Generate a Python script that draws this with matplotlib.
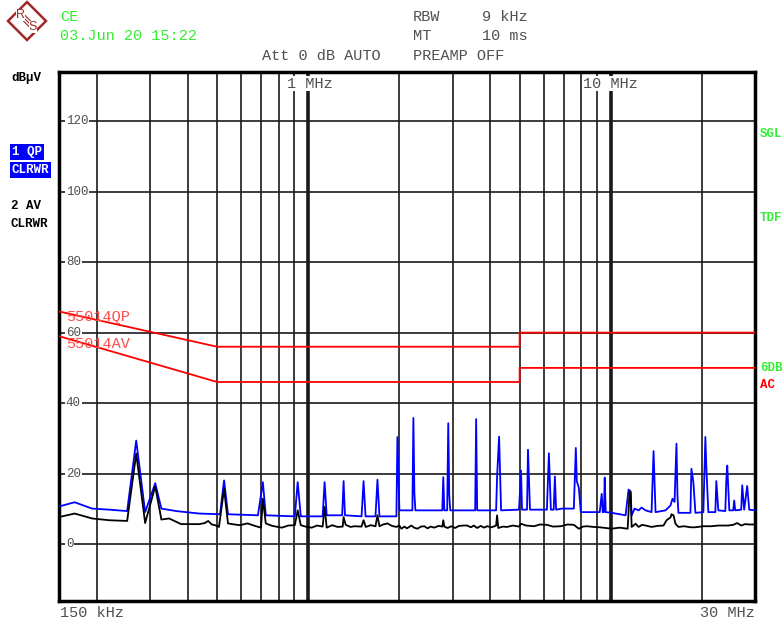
import matplotlib
matplotlib.use('Agg')
import matplotlib.pyplot as plt
from matplotlib.patches import Polygon
from matplotlib.ticker import NullLocator

mono = 'Liberation Mono'

# trace 1: quasi-peak (MHz, dBuV)
qp_freq = [0.150, 0.169, 0.193, 0.220, 0.252, 0.270, 0.289, 0.312, 0.327, 0.366,
           0.436, 0.511, 0.527, 0.543, 0.682, 0.708, 0.724, 0.903, 0.923, 0.945,
           1.116, 1.133, 1.151, 1.295, 1.309, 1.323, 1.501, 1.524, 1.547, 1.669,
           1.694, 1.720, 1.957, 1.972, 2.002, 2.210, 2.227, 2.244, 2.261, 2.775,
           2.796, 2.818, 2.880, 2.904, 2.926, 2.948, 3.564, 3.591, 3.619, 4.180,
           4.212, 4.276, 4.342, 4.977, 5.053, 5.092, 5.289, 5.328, 5.410, 6.153,
           6.248, 6.343, 6.48, 6.539, 6.60, 6.896, 7.553, 7.669, 7.727, 7.846,
           7.966, 9.20, 9.34, 9.41, 9.50, 9.555, 9.63, 10.08, 11.20, 11.46,
           11.64, 11.73, 12.00, 12.37, 12.65, 13.04, 13.65, 13.86, 14.07, 15.18,
           15.77, 16.01, 16.26, 16.50, 16.63, 16.75, 18.35, 18.49, 18.77, 19.06,
           20.25, 20.56, 20.72, 21.03, 22.18, 22.35, 22.69, 23.93, 24.11, 24.29,
           24.67, 25.42, 25.61, 25.81, 27.01, 27.22, 27.63, 28.27, 28.71, 30.0]
qp_level = [10.7, 11.9, 10.1, 9.8, 9.4, 29.4, 9.1, 17.3, 10.1, 9.4,
            8.7, 8.5, 18.1, 8.5, 8.2, 17.6, 8.2, 7.9, 17.6, 7.9,
            7.9, 17.6, 8.2, 8.2, 17.9, 8.2, 7.9, 17.9, 7.9, 7.9,
            18.3, 7.9, 7.9, 30.4, 9.6, 9.6, 35.8, 14.5, 9.6, 9.6,
            19.0, 9.6, 9.6, 34.3, 14.0, 9.6, 9.6, 35.5, 9.6, 9.6,
            19.3, 30.5, 9.6, 9.8, 20.9, 9.8, 9.8, 26.8, 9.8, 9.8,
            25.8, 9.8, 9.8, 19.2, 9.8, 10.1, 10.1, 27.3, 17.9, 16.0,
            9.1, 9.1, 14.3, 9.1, 9.1, 18.9, 9.1, 8.9, 8.2, 15.5,
            15.0, 8.2, 10.1, 9.6, 10.4, 9.6, 9.1, 26.4, 9.1, 9.6,
            11.0, 12.9, 12.0, 28.5, 13.5, 8.9, 8.9, 21.4, 17.5, 8.9,
            9.1, 30.4, 21.6, 9.1, 9.1, 17.9, 9.6, 9.4, 18.0, 22.3,
            9.6, 9.6, 12.4, 9.6, 9.8, 16.7, 9.8, 16.5, 9.8, 9.6]

# trace 2: average
av_freq = [0.150, 0.169, 0.193, 0.220, 0.252, 0.270, 0.289, 0.312, 0.327, 0.347,
           0.380, 0.436, 0.455, 0.467, 0.480, 0.492, 0.507, 0.527, 0.543, 0.570,
           0.594, 0.630, 0.666, 0.698, 0.708, 0.724, 0.760, 0.818, 0.860, 0.903,
           0.923, 0.945, 0.98, 1.027, 1.07, 1.116, 1.133, 1.151, 1.20, 1.251,
           1.30, 1.309, 1.33, 1.38, 1.423, 1.50, 1.524, 1.55, 1.61, 1.669,
           1.694, 1.720, 1.77, 1.828, 1.89, 1.957, 2.00, 2.033, 2.08, 2.12,
           2.193, 2.24, 2.296, 2.36, 2.421, 2.48, 2.54, 2.611, 2.70, 2.775,
           2.796, 2.818, 2.89, 2.971, 3.06, 3.15, 3.279, 3.354, 3.45, 3.53,
           3.619, 3.72, 3.81, 3.903, 4.04, 4.180, 4.212, 4.25, 4.40, 4.543,
           4.75, 4.977, 5.053, 5.25, 5.576, 5.85, 6.153, 6.45, 6.844, 7.2,
           7.553, 7.846, 8.1, 8.336, 8.790, 9.2, 9.6, 10.08, 10.7, 11.38,
           11.55, 11.64, 11.73, 12.09, 12.37, 12.7, 13.04, 13.65, 14.3, 14.95,
           15.30, 15.77, 15.89, 16.13, 16.38, 16.75, 17.5, 18.35, 19.06, 20.25,
           21.52, 22.69, 24.48, 25.42, 26.20, 27.01, 27.8, 28.71, 30.0]
av_level = [7.7, 8.7, 7.3, 6.8, 6.6, 25.7, 6.0, 16.4, 7.0, 7.3,
            5.7, 5.7, 6.0, 6.6, 5.6, 5.4, 4.9, 15.7, 5.9, 5.6,
            5.4, 5.9, 5.2, 4.7, 12.9, 5.9, 5.2, 4.7, 5.3, 5.4,
            9.6, 5.4, 5.0, 4.7, 5.3, 5.0, 10.6, 4.7, 5.4, 4.9,
            5.0, 7.7, 5.5, 4.9, 5.1, 5.0, 6.8, 4.9, 5.4, 5.1,
            8.2, 5.1, 5.6, 5.9, 5.2, 4.9, 5.3, 4.4, 5.0, 4.5,
            5.3, 4.7, 4.4, 5.0, 5.1, 4.5, 5.0, 4.7, 5.2, 5.0,
            6.8, 5.0, 4.6, 5.1, 4.6, 5.2, 5.3, 5.3, 4.8, 5.3,
            4.6, 5.2, 4.7, 5.1, 4.8, 5.3, 8.2, 4.6, 5.0, 4.9,
            5.3, 5.0, 5.8, 5.3, 5.1, 5.6, 5.5, 5.0, 5.1, 5.6,
            5.5, 4.4, 5.0, 5.1, 4.9, 4.8, 4.6, 4.4, 4.7, 4.4,
            15.1, 14.5, 4.9, 5.8, 4.9, 5.5, 5.3, 4.9, 5.2, 5.3,
            6.8, 7.6, 8.5, 8.2, 5.8, 4.9, 5.1, 4.8, 4.8, 5.1,
            5.1, 5.3, 5.3, 5.5, 6.0, 5.3, 5.7, 5.6, 5.6]

# EN 55014 limit lines
lim_freq = [0.15, 0.5, 5, 5, 30]
lim_qp = [66, 56, 56, 60, 60]
lim_av = [59, 46, 46, 50, 50]

y_ticks = [0, 20, 40, 60, 80, 100, 120]
grid_freqs = [0.2, 0.3, 0.4, 0.5, 0.6, 0.7, 0.8, 0.9, 1,
              2, 3, 4, 5, 6, 7, 8, 9, 10, 20]

green = '#33ee33'
gray = '#505050'

fig = plt.figure(figsize=(7.84, 6.25), dpi=100)
ax = fig.add_axes([59 / 784, 24 / 625, 696 / 784, 529 / 625])
ax.set_xscale('log')
ax.set_xlim(0.15, 30)
ax.set_ylim(-16.1, 133.9)
ax.set_xticks([])
ax.set_yticks([])
ax.xaxis.set_minor_locator(NullLocator())
for s in ax.spines.values():
    s.set_linewidth(2.5)

for f in grid_freqs:
    lw = 2.6 if f in (1, 10) else 1.2
    ax.axvline(f, color='#1a1a1a', lw=lw, zorder=1)
for y in y_ticks:
    ax.axhline(y, color='#1a1a1a', lw=1.2, zorder=1)
    ax.text(0.158, y, str(y), family=mono, fontsize=9, color=gray,
            ha='left', va='center', zorder=2,
            bbox=dict(facecolor='white', edgecolor='none', pad=0.8))

ax.text(0.85, 130.6, '1 MHz', family=mono, fontsize=11, color=gray,
        ha='left', va='center', zorder=2,
        bbox=dict(facecolor='white', edgecolor='none', pad=0.5))
ax.text(8.1, 130.6, '10 MHz', family=mono, fontsize=11, color=gray,
        ha='left', va='center', zorder=2,
        bbox=dict(facecolor='white', edgecolor='none', pad=0.5))

ax.plot(lim_freq, lim_qp, color='#ff0000', lw=1.3, zorder=3)
ax.plot(lim_freq, lim_av, color='#ff0000', lw=1.3, zorder=3)
ax.text(0.158, 64.4, '55014QP', family=mono, fontsize=11, color='#ff4d4d',
        ha='left', va='center', zorder=3)
ax.text(0.158, 56.8, '55014AV', family=mono, fontsize=11, color='#ff4d4d',
        ha='left', va='center', zorder=3)

ax.plot(qp_freq, qp_level, color='#0000ff', lw=1.3, zorder=4)
ax.plot(av_freq, av_level, color='black', lw=1.3, zorder=5)

# overlay in pixel coordinates for the instrument annotations
ov = fig.add_axes([0, 0, 1, 1], zorder=-1)
ov.set_xlim(0, 784)
ov.set_ylim(625, 0)
ov.axis('off')

def t(x, y, s, color=gray, size=11, weight='normal', ha='left', **kw):
    ov.text(x, y, s, family=mono, fontsize=size, color=color,
            fontweight=weight, ha=ha, va='center', **kw)

t(60, 17, 'CE', color=green)
t(60, 36, '03.Jun 20 15:22', color=green)
t(262, 56, 'Att 0 dB AUTO')
t(413, 17, 'RBW')
t(482, 17, '9 kHz')
t(413, 36, 'MT')
t(482, 36, '10 ms')
t(413, 56, 'PREAMP OFF')

t(11, 78, 'dB\u00b5V', color='black', size=9, weight='bold')
t(12, 152, '1 QP', color='white', size=9, weight='bold',
  bbox=dict(facecolor='#0000ff', edgecolor='none', pad=1.2))
t(12, 170, 'CLRWR', color='white', size=9, weight='bold',
  bbox=dict(facecolor='#0000ff', edgecolor='none', pad=1.2))
t(11, 206, '2 AV', color='black', size=9, weight='bold')
t(11, 224, 'CLRWR', color='black', size=9, weight='bold')

t(760, 134, 'SGL', color=green, size=9, weight='bold')
t(760, 218, 'TDF', color=green, size=9, weight='bold')
t(760, 368, '6DB', color=green, size=9, weight='bold')
t(760, 385, 'AC', color='#ff0000', size=9, weight='bold')

t(60, 613, '150 kHz')
t(755, 613, '30 MHz', ha='right')

# R&S logo
logo_red = '#a02828'
ov.add_patch(Polygon([(27, 2), (46, 21), (27, 40), (8, 21)], closed=True,
                     facecolor='white', edgecolor=logo_red, lw=1.8))
for off in (-1.8, 0, 1.8):
    ov.plot([19 - off, 35 - off], [13 + off, 29 + off], color=logo_red, lw=0.8)
ov.text(21, 15, 'R', family='Liberation Sans', fontsize=9, color=logo_red,
        ha='center', va='center',
        bbox=dict(facecolor='white', edgecolor='none', pad=0))
ov.text(33, 27, 'S', family='Liberation Sans', fontsize=9, color=logo_red,
        ha='center', va='center',
        bbox=dict(facecolor='white', edgecolor='none', pad=0))

fig.savefig('out.png', dpi=100)
